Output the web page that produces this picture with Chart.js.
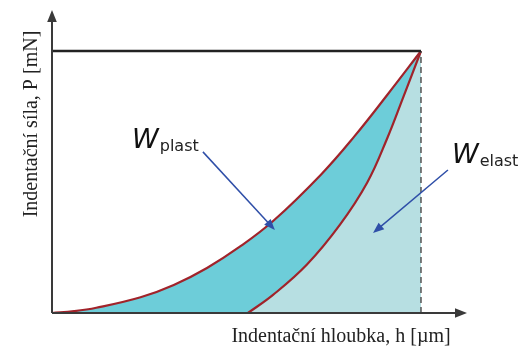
<!DOCTYPE html>
<html>
<head>
<meta charset="utf-8">
<script src="https://cdn.jsdelivr.net/npm/chart.js@4.4.1/dist/chart.umd.min.js"></script>
<style>
  html, body { margin: 0; padding: 0; background: #fff; }
  #wrap { width: 520px; height: 346px; position: relative; }
</style>
</head>
<body>
<div id="wrap"><canvas id="chart"></canvas></div>
<script>
// loading curve (h, P) normalised to the maximum point
const loadH = [0, 0.06, 0.12, 0.24, 0.33, 0.42, 0.51, 0.60, 0.73, 0.82, 0.91, 1.0];
const loadP = [0, 0.007, 0.02, 0.06, 0.107, 0.172, 0.254, 0.352, 0.53, 0.675, 0.835, 1.0];
// unloading curve
const unloadH = [0.531, 0.599, 0.691, 0.780, 0.854, 0.908, 0.951, 1.0];
const unloadP = [0, 0.069, 0.185, 0.336, 0.497, 0.665, 0.82, 1.0];
// maximum load level
const maxH = [0, 1.0];
const maxP = [1.0, 1.0];

const xLabel = 'Indentační hloubka, h [µm]';
const yLabel = 'Indentační síla, P [mN]';
const labels = [
    { main: 'W', sub: 'plast', at: [0.217, 0.63], from: [0.409, 0.615], to: [0.604, 0.317] },
    { main: 'W', sub: 'elast', at: [1.084, 0.573], from: [1.073, 0.546], to: [0.870, 0.305] }
];

const pts = (xs, ys) => xs.map((x, i) => ({ x: x, y: ys[i] }));

function arrow(ctx, x1, y1, x2, y2, color, head, width) {
    const a = Math.atan2(y2 - y1, x2 - x1);
    ctx.save();
    ctx.strokeStyle = color;
    ctx.fillStyle = color;
    ctx.lineWidth = width;
    ctx.beginPath();
    ctx.moveTo(x1, y1);
    ctx.lineTo(x2 - Math.cos(a) * head * 0.8, y2 - Math.sin(a) * head * 0.8);
    ctx.stroke();
    ctx.beginPath();
    ctx.moveTo(x2, y2);
    ctx.lineTo(x2 - head * Math.cos(a) + head * 0.4 * Math.sin(a), y2 - head * Math.sin(a) - head * 0.4 * Math.cos(a));
    ctx.lineTo(x2 - head * Math.cos(a) - head * 0.4 * Math.sin(a), y2 - head * Math.sin(a) + head * 0.4 * Math.cos(a));
    ctx.closePath();
    ctx.fill();
    ctx.restore();
}

const decor = {
    id: 'decor',
    afterDatasetsDraw(chart) {
        const ctx = chart.ctx;
        const xs = chart.scales.x, ys = chart.scales.y;
        const x0 = xs.getPixelForValue(0), y0 = ys.getPixelForValue(0);
        const xEnd = xs.getPixelForValue(xs.max), yEnd = ys.getPixelForValue(ys.max);

        // axes with arrows
        arrow(ctx, x0, y0, x0, yEnd, '#3a3a3a', 12, 2);
        arrow(ctx, x0, y0, xEnd, y0, '#3a3a3a', 12, 2);

        // W labels + blue arrows
        labels.forEach(l => {
            const px = xs.getPixelForValue(l.at[0]), py = ys.getPixelForValue(l.at[1]);
            ctx.save();
            ctx.fillStyle = '#111';
            ctx.textBaseline = 'alphabetic';
            ctx.textAlign = 'left';
            ctx.font = 'italic 27px "DejaVu Sans"';
            ctx.fillText(l.main, px, py);
            const w = ctx.measureText(l.main).width;
            ctx.font = '16px "DejaVu Sans"';
            ctx.fillStyle = '#222';
            ctx.fillText(l.sub, px + w + 1, py + 3);
            ctx.restore();
            arrow(ctx, xs.getPixelForValue(l.from[0]), ys.getPixelForValue(l.from[1]),
                xs.getPixelForValue(l.to[0]), ys.getPixelForValue(l.to[1]), '#2f4fa8', 11, 1.5);
        });

        // axis titles
        ctx.save();
        ctx.fillStyle = '#222';
        ctx.font = '20px "Liberation Serif"';
        ctx.textAlign = 'center';
        ctx.textBaseline = 'alphabetic';
        ctx.fillText(xLabel, 341, 342);
        ctx.translate(37, 124);
        ctx.rotate(-Math.PI / 2);
        ctx.fillText(yLabel, 0, 0);
        ctx.restore();
    }
};

new Chart(document.getElementById('chart'), {
    type: 'line',
    data: {
        datasets: [
            {
                data: pts(maxH, maxP),
                borderColor: '#222',
                borderWidth: 2.5,
                pointRadius: 0,
                fill: false,
                order: 1
            },
            {
                data: pts([1, 1], [0, 1]),
                borderColor: '#555',
                borderWidth: 1.5,
                borderDash: [6, 4],
                pointRadius: 0,
                fill: false,
                order: 1
            },
            {
                data: pts(unloadH, unloadP),
                borderColor: '#a1232a',
                backgroundColor: '#b7dfe2',
                borderWidth: 2.2,
                pointRadius: 0,
                tension: 0.4,
                fill: 'origin',
                order: 2
            },
            {
                data: pts(loadH, loadP),
                borderColor: '#a1232a',
                backgroundColor: '#6dcdd9',
                borderWidth: 2.2,
                pointRadius: 0,
                tension: 0.4,
                fill: 'origin',
                order: 3
            }
        ]
    },
    options: {
        responsive: true,
        maintainAspectRatio: false,
        animation: false,
        layout: { padding: { left: 52, right: 53, top: 10, bottom: 33 } },
        plugins: { legend: { display: false }, tooltip: { enabled: false } },
        scales: {
            x: { type: 'linear', display: false, min: 0, max: 1.1247 },
            y: { type: 'linear', display: false, min: 0, max: 1.1565 }
        }
    },
    plugins: [decor]
});
</script>
</body>
</html>
